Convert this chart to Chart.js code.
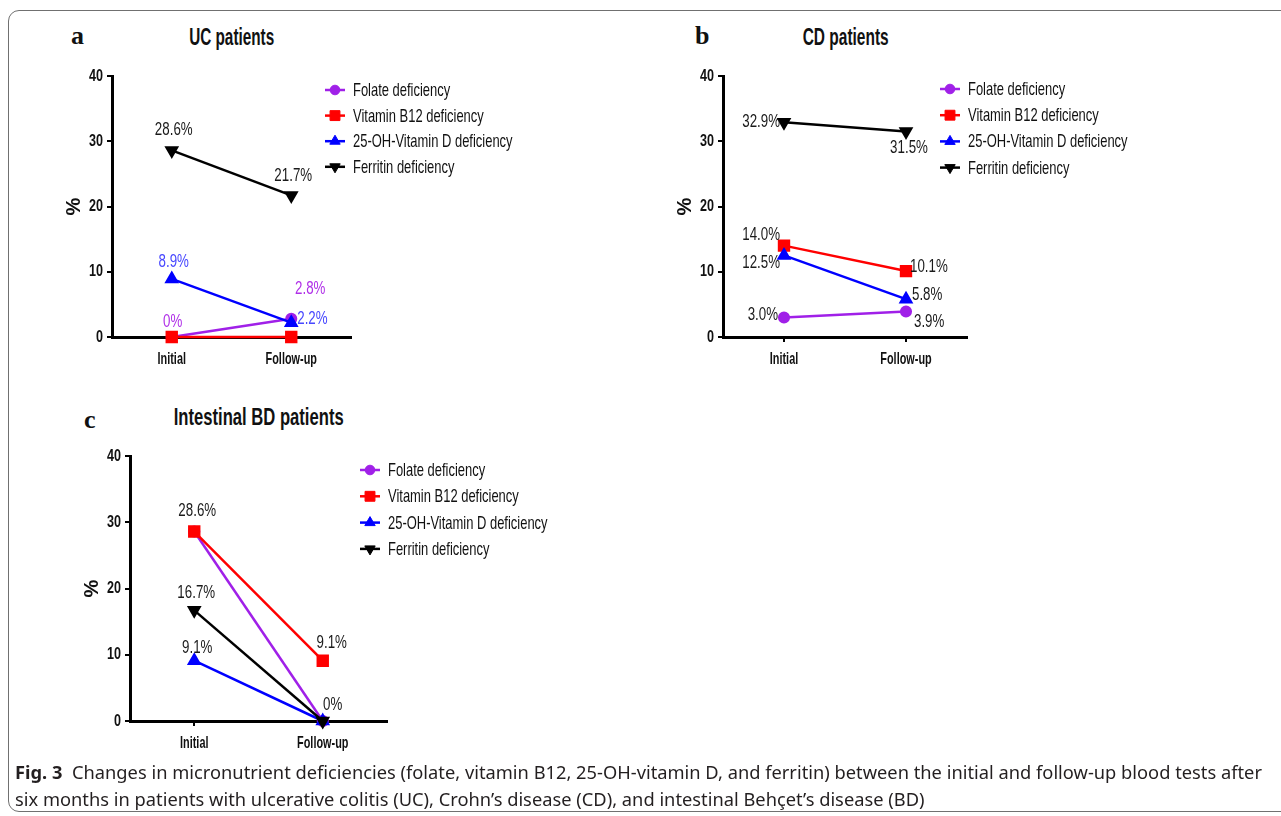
<!DOCTYPE html>
<html>
<head>
<meta charset="utf-8">
<script src="https://cdn.jsdelivr.net/npm/chart.js@4.4.1/dist/chart.umd.min.js"></script>
<style>
  html, body { margin: 0; overflow: hidden; background: #fff; }
  #page { position: relative; width: 1281px; height: 816px; overflow: hidden; }
  .frame { position: absolute; left: 8px; top: 10px; width: 1400px; height: 800px; border: 1.5px solid #707070; border-radius: 11px; }
  canvas { position: absolute; }
  .letter { position: absolute; font-family: 'Liberation Serif', 'DejaVu Serif', serif; font-weight: bold; font-size: 26px; line-height: 30px; color: #111; }
  .title { position: absolute; width: 400px; text-align: center; font-family: 'Liberation Sans', Arial, sans-serif; font-weight: bold; font-size: 24px; line-height: 28px; color: #111; }
  .title span, .cap span { display: inline-block; white-space: nowrap; }
  .title span { transform-origin: center; }
  .cap { position: absolute; left: 15px; font-family: 'Noto Sans', 'Open Sans', sans-serif; font-size: 18px; line-height: 27px; color: #231f20; }
  .cap span { transform-origin: left center; }
</style>
</head>
<body>
<div id="page">
<div class="frame"></div>

<div class="letter" style="left:71px;top:21px">a</div>
<div class="letter" style="left:695px;top:21px">b</div>
<div class="letter" style="left:84px;top:405px">c</div>

<div class="title" style="left:32px;top:23px"><span data-w="85">UC patients</span></div>
<div class="title" style="left:646px;top:23px"><span data-w="86">CD patients</span></div>
<div class="title" style="left:59px;top:403px"><span data-w="170">Intestinal BD patients</span></div>

<canvas id="chartA" width="640" height="390" style="left:0;top:0"></canvas>
<canvas id="chartB" width="641" height="390" style="left:640px;top:0"></canvas>
<canvas id="chartC" width="640" height="380" style="left:0;top:390px"></canvas>

<div class="cap" style="top:759px"><span id="cap1"><b>Fig. 3</b>&nbsp; Changes in micronutrient deficiencies (folate, vitamin B12, 25-OH-vitamin D, and ferritin) between the initial and follow-up blood tests after</span></div>
<div class="cap" style="top:786px"><span id="cap2">six months in patients with ulcerative colitis (UC), Crohn’s disease (CD), and intestinal Behçet’s disease (BD)</span></div>
</div>

<script>
// data
const timepoints = ['Initial', 'Follow-up'];
const seriesNames = ['Folate deficiency', 'Vitamin B12 deficiency', '25-OH-Vitamin D deficiency', 'Ferritin deficiency'];
const yTicks = [0, 10, 20, 30, 40];

const ucFolate = [0, 2.8];
const ucB12 = [0, 0];
const ucVitD = [8.9, 2.2];
const ucFerritin = [28.6, 21.7];

const cdFolate = [3.0, 3.9];
const cdB12 = [14.0, 10.1];
const cdVitD = [12.5, 5.8];
const cdFerritin = [32.9, 31.5];

const bdFolate = [28.6, 0];
const bdB12 = [28.6, 9.1];
const bdVitD = [9.1, 0];
const bdFerritin = [16.7, 0];

// series styles
const colors = ['#a020e8', '#ff0000', '#0000ff', '#000000'];
const markers = [
  { style: 'circle', rotation: 0, radius: 4.8 },
  { style: 'rect', rotation: 0, radius: 7 },
  { style: 'triangle', rotation: 0, radius: 6 },
  { style: 'triangle', rotation: 180, radius: 6 }
];

// where each value label sits relative to its point: [dx, dy, align, color]
const ucPlaces = [
  [[1, -15, 'center', '#b030e8'], [19, -30, 'center', '#b030e8']],
  [null, null],
  [[2, -17, 'center', '#4848ff'], [6, -4, 'left', '#4848ff']],
  [[2, -20, 'center'], [2, -19, 'center']]
];
const cdPlaces = [
  [[-6, -2, 'right'], [8, 10, 'left']],
  [[-4, -11, 'right'], [4, -4, 'left']],
  [[-4, 8, 'right'], [6, -4, 'left']],
  [[-4, 0, 'right'], [3, 17, 'center']]
];
const bdPlaces = [
  [null, null],
  [[3, -20, 'center'], [9, -18, 'center']],
  [[3, -13, 'center'], null],
  [[2, -17, 'center'], [10, -16, 'center']]
];

const SANS = "'Liberation Sans', Arial, sans-serif";

function fmt(v) {
  return v === 0 ? '0%' : v.toFixed(1) + '%';
}

// the figure uses a very narrow face, so text is squeezed horizontally
function squish(ctx, text, x, y, align, sx) {
  ctx.save();
  ctx.translate(x, y);
  ctx.scale(sx, 1);
  ctx.textAlign = align;
  ctx.fillText(text, 0, 0);
  ctx.restore();
}

const tickText = {
  id: 'tickText',
  afterDraw(chart) {
    const ctx = chart.ctx;
    const xs = chart.scales.x;
    const ys = chart.scales.y;
    const area = chart.chartArea;
    ctx.save();
    ctx.font = 'bold 17px ' + SANS;
    ctx.fillStyle = '#111';
    ctx.textBaseline = 'middle';
    xs.ticks.forEach((t, i) => {
      squish(ctx, xs.getLabelForValue(t.value), xs.getPixelForTick(i), area.bottom + 22, 'center', 0.64);
    });
    ys.ticks.forEach(t => {
      squish(ctx, String(t.value), area.left - 9, ys.getPixelForValue(t.value), 'right', 0.74);
    });
    ctx.restore();
  }
};

const pointLabels = {
  id: 'pointLabels',
  afterDatasetsDraw(chart) {
    const ctx = chart.ctx;
    chart.data.datasets.forEach((ds, i) => {
      const meta = chart.getDatasetMeta(i);
      ds.labelPlace.forEach((p, j) => {
        if (!p) return;
        const el = meta.data[j];
        ctx.save();
        ctx.font = '18px ' + SANS;
        ctx.fillStyle = p[3] || '#1a1a1a';
        ctx.textBaseline = 'middle';
        squish(ctx, fmt(ds.data[j]), el.x + p[0], el.y + p[1], p[2], 0.74);
        ctx.restore();
      });
    });
  }
};

const sideLegend = {
  id: 'sideLegend',
  afterDraw(chart, args, opts) {
    const ctx = chart.ctx;
    chart.data.datasets.forEach((ds, i) => {
      const x = opts.x;
      const y = opts.y + i * opts.step;
      ctx.save();
      ctx.strokeStyle = ds.borderColor;
      ctx.lineWidth = 2.5;
      ctx.beginPath();
      ctx.moveTo(x - 10, y);
      ctx.lineTo(x + 10, y);
      ctx.stroke();
      ctx.fillStyle = ds.borderColor;
      ctx.lineWidth = 1;
      Chart.helpers.drawPoint(ctx, {
        pointStyle: ds.pointStyle,
        rotation: ds.pointRotation,
        radius: ds.pointRadius,
        borderWidth: 1
      }, x, y);
      ctx.font = '18.5px ' + SANS;
      ctx.fillStyle = '#111';
      ctx.textBaseline = 'middle';
      squish(ctx, ds.label, x + 18, y + 1, 'left', 0.7);
      ctx.restore();
    });
  }
};

function makePanel(id, series, places, box, legend) {
  const yW = 50, xH = 40;
  const datasets = series.map((vals, i) => ({
    label: seriesNames[i],
    data: vals,
    borderColor: colors[i],
    backgroundColor: colors[i],
    pointBackgroundColor: colors[i],
    pointBorderColor: colors[i],
    borderWidth: 2.5,
    pointStyle: markers[i].style,
    pointRotation: markers[i].rotation,
    pointRadius: markers[i].radius,
    order: 4 - i,
    clip: false,
    labelPlace: places[i]
  }));

  const canvas = document.getElementById(id);
  return new Chart(canvas, {
    type: 'line',
    data: { labels: timepoints, datasets: datasets },
    options: {
      responsive: false,
      animation: false,
      layout: {
        padding: {
          left: box.left - yW,
          top: box.top,
          right: canvas.width - box.right,
          bottom: canvas.height - box.bottom - xH
        }
      },
      plugins: {
        legend: { display: false },
        tooltip: { enabled: false },
        sideLegend: legend
      },
      scales: {
        x: {
          offset: true,
          afterFit: s => { s.height = xH; },
          grid: { drawOnChartArea: false, drawTicks: true, tickLength: 5, color: '#000', lineWidth: 2, offset: false },
          border: { display: true, color: '#000', width: 3 },
          ticks: { display: false }
        },
        y: {
          min: yTicks[0],
          max: yTicks[yTicks.length - 1],
          afterFit: s => { s.width = yW; },
          afterBuildTicks: s => { s.ticks = yTicks.map(v => ({ value: v })); },
          grid: { drawOnChartArea: false, drawTicks: true, tickLength: 5, color: '#000', lineWidth: 2 },
          border: { display: true, color: '#000', width: 3 },
          ticks: { display: false },
          title: { display: true, text: '%', color: '#111', padding: 0, font: { family: SANS, size: 20, weight: 'bold' } }
        }
      }
    },
    plugins: [tickText, pointLabels, sideLegend]
  });
}

makePanel('chartA', [ucFolate, ucB12, ucVitD, ucFerritin], ucPlaces,
  { left: 112, right: 351, top: 76, bottom: 337 }, { x: 335, y: 90, step: 25.6 });
makePanel('chartB', [cdFolate, cdB12, cdVitD, cdFerritin], cdPlaces,
  { left: 83, right: 327, top: 76, bottom: 337 }, { x: 310, y: 89, step: 26.2 });
makePanel('chartC', [bdFolate, bdB12, bdVitD, bdFerritin], bdPlaces,
  { left: 130, right: 387, top: 66, bottom: 331 }, { x: 370, y: 80, step: 26.3 });

// squeeze the html text to the widths seen in the figure
document.querySelectorAll('.title span').forEach(el => {
  const w = el.getBoundingClientRect().width;
  el.style.transform = 'scaleX(' + (Number(el.dataset.w) / w) + ')';
});
const cap1 = document.getElementById('cap1');
const capScale = 1247 / cap1.getBoundingClientRect().width;
cap1.style.transform = 'scaleX(' + capScale + ')';
document.getElementById('cap2').style.transform = 'scaleX(' + capScale + ')';
</script>
</body>
</html>
